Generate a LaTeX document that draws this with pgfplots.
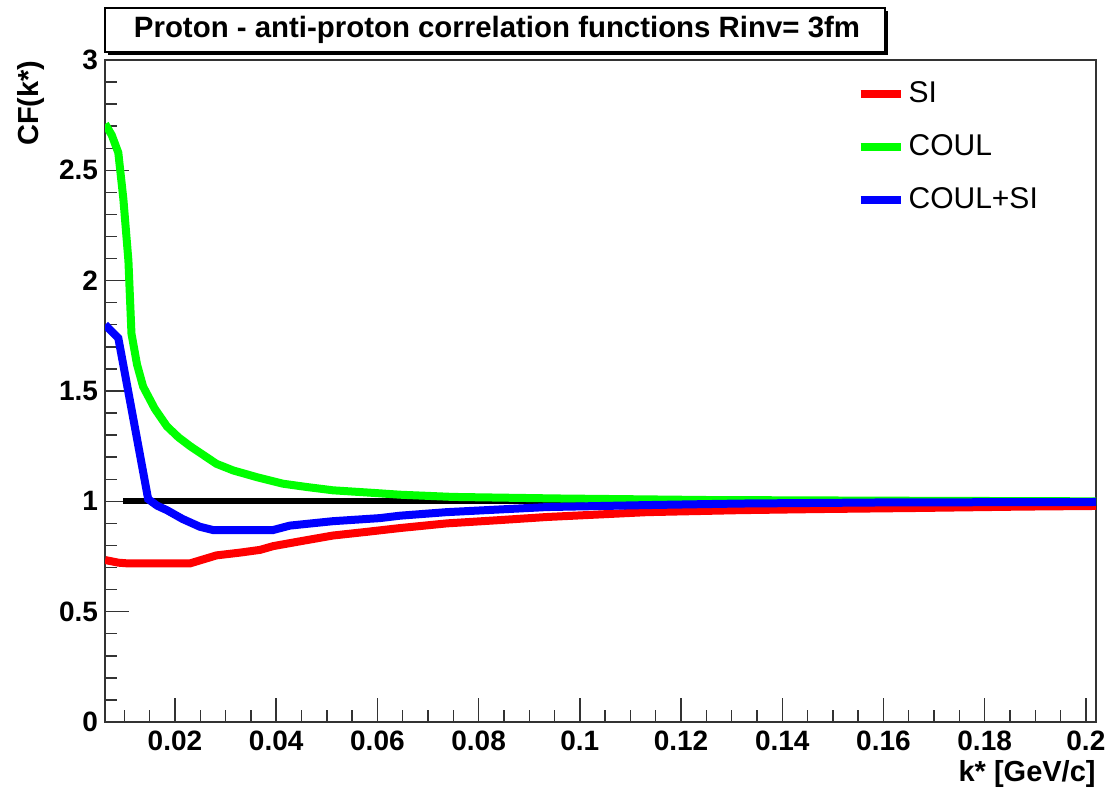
\documentclass[border=0pt]{standalone}
\usepackage{fontspec}
\setmainfont{Liberation Sans}
\usepackage{pgfplots}
\pgfplotsset{compat=1.18}
\begin{document}
\begin{tikzpicture}
\path[use as bounding box] (0,0) rectangle (559pt,393.5pt);
\fill[black] (54pt,366pt) rectangle (444pt,388pt);
\draw[fill=white, line width=0.8pt] (52.5pt,367.5pt) rectangle (442.5pt,389.5pt);
\node[font=\fontsize{14.7}{17}\selectfont\bfseries] at (248.5pt,378.5pt) {Proton - anti-proton correlation functions Rinv= 3fm};
\begin{axis}[
  at={(52.5pt,32.5pt)}, anchor=south west,
  scale only axis, width=495.5pt, height=331pt,
  xmin=0.00617, xmax=0.202, ymin=0, ymax=3,
  xtick={0.02,0.04,0.06,0.08,0.1,0.12,0.14,0.16,0.18,0.2},
  xticklabels={0.02,0.04,0.06,0.08,0.1,0.12,0.14,0.16,0.18,0.2},
  ytick={0,0.5,1,1.5,2,2.5,3},
  yticklabels={0,0.5,1,1.5,2,2.5,3},
  minor xtick={0.01,0.015,...,0.2},
  minor ytick={0,0.1,...,3},
  tick align=inside, xtick pos=bottom, ytick pos=left,
  major tick length=12pt, minor tick length=6pt,
  tick style={black!80, line width=0.7pt},
  axis line style={black!80, line width=1pt},
  /pgf/number format/assume math mode=true,
  ticklabel style={font=\fontsize{14}{16}\selectfont\bfseries},
  xticklabel style={yshift=-1pt},
  xlabel={k* [GeV/c]},
  ylabel={CF(k*)},
  label style={font=\fontsize{14.5}{17}\selectfont\bfseries},
  xlabel style={at={(axis description cs:1,0)}, anchor=north east, inner sep=0pt, yshift=-19pt},
  ylabel style={at={(axis description cs:-0.061,1)}, anchor=south east, inner sep=0pt},
  legend style={draw=none, fill=none, at={(0.752,0.98)}, anchor=north west,
    font=\fontsize{15}{18}\selectfont, row sep=10.5pt},
  legend cell align=left,
  legend image code/.code={\draw[#1] (0pt,0pt) -- (20pt,0pt);},
]
\addplot[black, line width=3pt, forget plot] coordinates {(0.0098,1) (0.202,1)};
\addplot[red, line width=4pt] coordinates {
(0.0062,0.734) (0.0088,0.722) (0.0105,0.719) (0.023,0.719) (0.0282,0.755) (0.033,0.768)
(0.0368,0.780) (0.0394,0.797) (0.045,0.820) (0.0512,0.845) (0.058,0.862) (0.0645,0.879)
(0.0737,0.900) (0.0842,0.915) (0.0935,0.929) (0.1133,0.951) (0.1316,0.960) (0.1474,0.965)
(0.1672,0.970) (0.187,0.976) (0.202,0.979)};
\addlegendentry{SI}
\addplot[green, line width=4pt] coordinates {
(0.0062,2.71) (0.0075,2.66) (0.0088,2.58) (0.0098,2.37) (0.0108,2.09) (0.0114,1.76)
(0.0125,1.62) (0.0137,1.52) (0.016,1.42) (0.0184,1.34) (0.0207,1.29) (0.023,1.25)
(0.0256,1.21) (0.0282,1.17) (0.0315,1.14) (0.0361,1.11) (0.0413,1.08) (0.046,1.065)
(0.0512,1.05) (0.058,1.04) (0.0645,1.03) (0.0749,1.02) (0.0955,1.013) (0.1251,1.006)
(0.16,1.003) (0.202,1.0)};
\addlegendentry{COUL}
\addplot[blue, line width=4pt] coordinates {
(0.0062,1.80) (0.0088,1.74) (0.0118,1.37) (0.0147,1.01) (0.0165,0.98) (0.0184,0.96)
(0.0215,0.92) (0.0249,0.885) (0.0275,0.87) (0.0394,0.87) (0.0427,0.89) (0.0512,0.91)
(0.0605,0.924) (0.0645,0.935) (0.0737,0.951) (0.0935,0.974) (0.1133,0.983) (0.1316,0.99)
(0.16,0.995) (0.202,0.997)};
\addlegendentry{COUL+SI}
\end{axis}
\end{tikzpicture}
\end{document}
